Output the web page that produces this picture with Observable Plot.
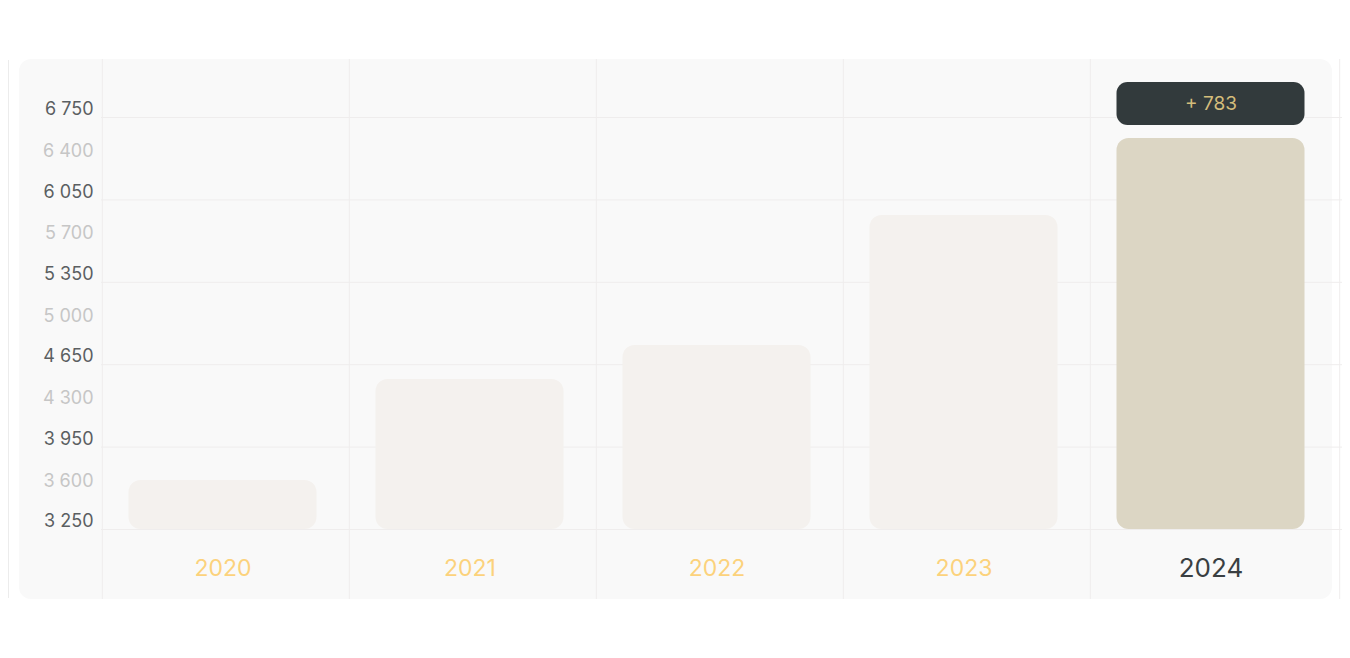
<!DOCTYPE html>
<html>
<head>
<meta charset="utf-8">
<script src="https://cdn.jsdelivr.net/npm/d3@7"></script>
<script src="https://cdn.jsdelivr.net/npm/@observablehq/plot@0.6"></script>
<style>
  html, body { margin: 0; padding: 0; background: #ffffff; }
  #wrap { position: relative; width: 1350px; height: 658px; overflow: hidden; font-family: Inter, "Noto Sans", sans-serif; }
  #card { position: absolute; left: 19px; top: 59px; width: 1313px; height: 540px; border-radius: 12px; background: #f9f9f9; }
  #edge { position: absolute; left: 8px; top: 60px; width: 1px; height: 538px; background: #ececec; }
  #chart { position: absolute; left: 0; top: 0; }
</style>
</head>
<body>
<div id="wrap">
  <div id="edge"></div>
  <div id="card"></div>
  <div id="chart"></div>
</div>
<script>
// ---- data ----
const years = ["2020", "2021", "2022", "2023", "2024"];
const values = [3666, 4524, 4813, 5918, 6572];
const yTicks = [3250, 3600, 3950, 4300, 4650, 5000, 5350, 5700, 6050, 6400, 6750];
const highlightYear = "2024";
const deltaValue = 783;

const data = years.map((year, i) => ({year, value: values[i]}));
const highlighted = data.filter(d => d.year === highlightYear);
const darkTicks = yTicks.filter((d, i) => i % 2 === 0);
const lightTicks = yTicks.filter((d, i) => i % 2 === 1);
const fmt = d => d3.format(",")(d).replace(/,/g, " ");

const W = 1350, H = 658;
const mL = 101, mR = 12, mT = 117, mB = 129;
const halfBand = (W - mL - mR) / years.length / 2;
const insL = 26.5, insR = 32.5;
const gridColor = "#efeded";

const chart = Plot.plot({
  width: W,
  height: H,
  marginLeft: mL,
  marginRight: mR,
  marginTop: mT,
  marginBottom: mB,
  style: {background: "transparent", fontFamily: "Inter, 'Noto Sans', sans-serif", overflow: "visible"},
  x: {type: "band", domain: years, padding: 0, axis: null},
  y: {domain: [yTicks[0], yTicks[yTicks.length - 1]], axis: null},
  marks: [
    // horizontal grid (only on the dark ticks)
    Plot.ruleY(darkTicks, {y: d => d, stroke: gridColor, strokeWidth: 1, insetRight: -4}),
    // vertical band separators
    Plot.ruleX(years, {x: d => d, dx: -halfBand, stroke: gridColor, strokeWidth: 1, insetTop: -58, insetBottom: -70}),
    Plot.ruleX([years[years.length - 1]], {x: d => d, dx: halfBand + 2, stroke: gridColor, strokeWidth: 1, insetTop: -58, insetBottom: -70}),
    // bars
    Plot.barY(data.filter(d => d.year !== highlightYear), {
      x: "year", y1: yTicks[0], y2: "value",
      insetLeft: insL, insetRight: insR, rx: 12, fill: "#f4f1ee"
    }),
    Plot.barY(highlighted, {
      x: "year", y1: yTicks[0], y2: "value",
      insetLeft: insL, insetRight: insR, rx: 12, fill: "#dcd6c4"
    }),
    // delta badge
    Plot.barY(highlighted, {
      x: "year", y1: "value", y2: "value",
      insetLeft: insL, insetRight: insR, insetTop: -56, insetBottom: 13,
      rx: 11, fill: "#323a3c"
    }),
    Plot.text(highlighted, {
      x: "year", y: "value", dy: -34.5, dx: -3,
      text: () => "+ " + deltaValue,
      fill: "#d4bd7b", fontSize: 19, letterSpacing: "1.5px"
    }),
    // y labels
    Plot.text(darkTicks, {
      y: d => d, text: fmt, frameAnchor: "left", textAnchor: "end",
      dx: -8, dy: -8, fill: "#5b5f62", fontSize: 18
    }),
    Plot.text(lightTicks, {
      y: d => d, text: fmt, frameAnchor: "left", textAnchor: "end",
      dx: -8, dy: -7.5, fill: "#c6c6c6", fontSize: 18
    }),
    // x labels
    Plot.text(years.filter(d => d !== highlightYear), {
      x: d => d, text: d => d, frameAnchor: "bottom", dy: 46, dx: -3,
      fill: "#fcd27c", fontSize: 23, letterSpacing: "1.5px"
    }),
    Plot.text([highlightYear], {
      x: d => d, text: d => d, frameAnchor: "bottom", dy: 47, dx: -3,
      fill: "#3a3f42", fontSize: 26, letterSpacing: "1px"
    })
  ]
});

document.getElementById("chart").append(chart);
</script>
</body>
</html>
